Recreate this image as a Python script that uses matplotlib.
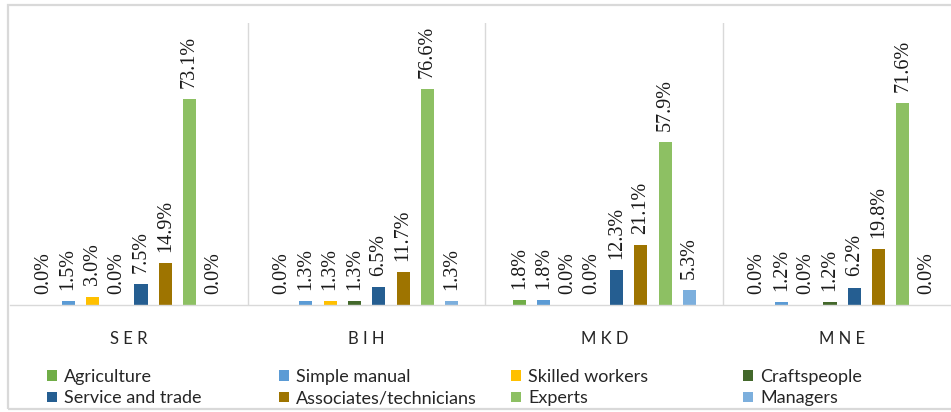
import matplotlib
matplotlib.use("Agg")
import matplotlib.pyplot as plt
from matplotlib.patches import Rectangle, Patch

# data (shares in %)
countries = ["S E R", "B I H", "M K D", "M N E"]
occupations = ["Agriculture", "Simple manual", "Skilled workers", "Craftspeople",
               "Service and trade", "Associates/technicians", "Experts", "Managers"]
agriculture = [0.0, 0.0, 1.8, 0.0]
simple_manual = [1.5, 1.3, 1.8, 1.2]
skilled_workers = [3.0, 1.3, 0.0, 0.0]
craftspeople = [0.0, 1.3, 0.0, 1.2]
service_trade = [7.5, 6.5, 12.3, 6.2]
associates = [14.9, 11.7, 21.1, 19.8]
experts = [73.1, 76.6, 57.9, 71.6]
managers = [0.0, 1.3, 5.3, 0.0]

series = [agriculture, simple_manual, skilled_workers, craftspeople,
          service_trade, associates, experts, managers]
colors = ["#70AD47", "#5B9BD5", "#FFC000", "#43682B",
          "#255E91", "#9E7400", "#8DC063", "#7CAFDD"]

W, H = 951, 412
fig = plt.figure(figsize=(W / 100, H / 100), dpi=100)
# plot area (pixels): left 10, right 961 (chart is cropped on the right), top 23, baseline 305
ax = fig.add_axes([10 / W, 1 - 305 / H, 951 / W, (305 - 23) / H])

step = 0.1022
bar_w = 0.055
x = list(range(len(countries)))
for j, (vals, col) in enumerate(zip(series, colors)):
    pos = [i + (j - 3.5) * step for i in x]
    bars = ax.bar(pos, vals, width=bar_w, color=col, label=occupations[j])
    ax.bar_label(bars, labels=[f"{v:.1f}%" for v in vals], rotation=90,
                 padding=8, fontsize=14.5, family="Liberation Serif", color="#1a1a1a")

ax.set_xlim(-0.5, 3.5)
ax.set_ylim(0, 100)
ax.set_xticks(x)
ax.set_xticklabels(countries, fontsize=12, family="Lato", color="#262626")
ax.tick_params(axis="x", length=0, pad=19)
ax.set_yticks([])
for s in ["top", "right", "left"]:
    ax.spines[s].set_visible(False)
ax.spines["bottom"].set_color("#d9d9d9")
ax.spines["bottom"].set_linewidth(1)
for b in [0.5, 1.5, 2.5]:
    ax.axvline(b, color="#d9d9d9", lw=1, zorder=0)

# legend: 4 columns, 2 rows (Excel style, equally spaced columns)
col_x = [47, 279, 511, 743]
for c in range(4):
    idx = [c, c + 4]
    handles = [Patch(facecolor=colors[k], label=occupations[k]) for k in idx]
    leg = fig.legend(handles=handles, loc="upper left",
                     bbox_to_anchor=(col_x[c] / W, 1 - 369 / H),
                     frameon=False, prop={"family": "Lato", "size": 13},
                     handlelength=0.55, handleheight=0.55, handletextpad=0.4,
                     labelspacing=0.3, borderpad=0, borderaxespad=0)
    for t in leg.get_texts():
        t.set_color("#262626")

# light gray chart border
fig.patches.append(Rectangle((8 / W, 1 - 409 / H), 1.2, (409 - 5) / H,
                             transform=fig.transFigure, fill=False,
                             edgecolor="#d9d9d9", lw=1.6, clip_on=False))

fig.savefig("out.png", dpi=100)
